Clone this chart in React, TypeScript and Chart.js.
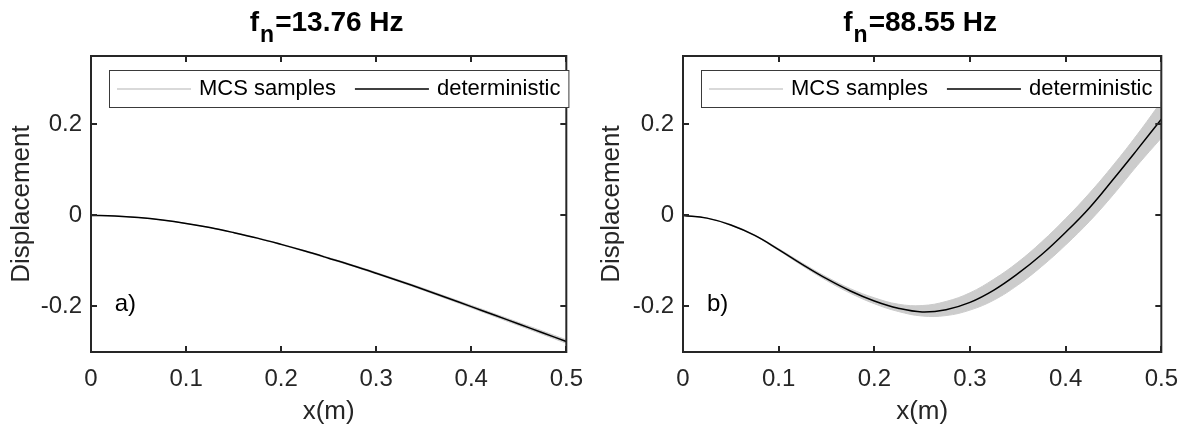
import React, { useEffect, useRef } from "react";
import { Chart, registerables } from "chart.js";

Chart.register(...registerables);

// ---------------- data ----------------
const xValues = [
  0, 0.025, 0.05, 0.075, 0.1, 0.125, 0.15, 0.175, 0.2, 0.225, 0.25,
  0.275, 0.3, 0.325, 0.35, 0.375, 0.4, 0.425, 0.45, 0.475, 0.5,
];

// panel a) f_n = 13.76 Hz
const detA = [
  0, -0.0012, -0.0047, -0.0103, -0.0177, -0.0268, -0.0378, -0.0499, -0.0637,
  -0.0784, -0.094, -0.11, -0.127, -0.1446, -0.1626, -0.1814, -0.2003, -0.2194,
  -0.2385, -0.2576, -0.277,
];
const mcsUpperA = [
  0, -0.0012, -0.0046, -0.0101, -0.0174, -0.0264, -0.0372, -0.0492, -0.0628,
  -0.0773, -0.0927, -0.1085, -0.1253, -0.1427, -0.1604, -0.179, -0.1976, -0.2164,
  -0.2352, -0.254, -0.2731,
];
const mcsLowerA = [
  0, -0.0012, -0.0048, -0.0105, -0.018, -0.0272, -0.0384, -0.0506, -0.0646,
  -0.0795, -0.0953, -0.1115, -0.1287, -0.1465, -0.1648, -0.1838, -0.203, -0.2224,
  -0.2418, -0.2612, -0.2809,
];

// panel b) f_n = 88.55 Hz
const detB = [
  0, -0.006, -0.021, -0.044, -0.075, -0.108, -0.139, -0.166, -0.188, -0.204,
  -0.212, -0.207, -0.191, -0.164, -0.128, -0.086, -0.037, 0.017, 0.08, 0.145,
  0.211,
];
const mcsUpperB = [
  0, -0.006, -0.02, -0.043, -0.073, -0.105, -0.135, -0.161, -0.181, -0.195,
  -0.198, -0.189, -0.17, -0.14, -0.103, -0.058, -0.007, 0.049, 0.111, 0.178,
  0.25,
];
const mcsLowerB = [
  0, -0.006, -0.022, -0.045, -0.077, -0.111, -0.143, -0.171, -0.194, -0.211,
  -0.221, -0.22, -0.208, -0.186, -0.153, -0.112, -0.065, -0.013, 0.046, 0.11,
  0.17,
];

const xTicks = [0, 0.1, 0.2, 0.3, 0.4, 0.5];
const yTicks = [-0.2, 0, 0.2];
const frequencies = ["13.76", "88.55"];
const panelLabels = ["a)", "b)"];
const legendLabels = ["MCS samples", "deterministic"];
const xAxisTitle = "x(m)";
const yAxisTitle = "Displacement";

// ---------------- style ----------------
const FAM = "'Liberation Sans', Arial, Helvetica, sans-serif";
const AXIS_COLOR = "#262626";
const BAND_COLOR = "#cccccc";
const H = 428;

type PanelLayout = {
  canvasLeft: number;
  canvasWidth: number;
  yWidth: number;
  rightPad: number;
  yTitlePad: number;
};

const layouts: PanelLayout[] = [
  { canvasLeft: 0, canvasWidth: 596, yWidth: 91, rightPad: 22, yTitlePad: 6 },
  { canvasLeft: 596, canvasWidth: 595, yWidth: 87, rightPad: 26, yTitlePad: 0 },
];

const series = [
  { det: detA, up: mcsUpperA, lo: mcsLowerA },
  { det: detB, up: mcsUpperB, lo: mcsLowerB },
];

function pts(ys: number[]) {
  return xValues.map((x, i) => ({ x, y: ys[i] }));
}

function makeFramePlugin(idx: number) {
  return {
    id: "matlabFrame" + idx,
    afterDatasetsDraw(chart: any) {
      const { ctx, chartArea } = chart;
      const { left, right, top, bottom } = chartArea;
      const xs = chart.scales.x;
      const ys = chart.scales.y;
      ctx.save();

      // panel label
      ctx.fillStyle = "#000";
      ctx.font = `24px ${FAM}`;
      ctx.textAlign = "left";
      ctx.textBaseline = "alphabetic";
      ctx.fillText(panelLabels[idx], xs.getPixelForValue(0.025), ys.getPixelForValue(-0.21));

      // box & inner ticks
      ctx.strokeStyle = AXIS_COLOR;
      ctx.lineWidth = 2;
      ctx.beginPath();
      const tl = 6;
      for (const v of xTicks) {
        const px = Math.round(xs.getPixelForValue(v));
        ctx.moveTo(px, bottom);
        ctx.lineTo(px, bottom - tl);
        ctx.moveTo(px, top);
        ctx.lineTo(px, top + tl);
      }
      for (const v of yTicks) {
        const py = Math.round(ys.getPixelForValue(v));
        ctx.moveTo(left, py);
        ctx.lineTo(left + tl, py);
        ctx.moveTo(right, py);
        ctx.lineTo(right - tl, py);
      }
      ctx.stroke();
      ctx.strokeRect(left, top, right - left, bottom - top);

      // legend
      const lf = 22;
      ctx.font = `${lf}px ${FAM}`;
      const w1 = ctx.measureText(legendLabels[0]).width;
      const w2 = ctx.measureText(legendLabels[1]).width;
      const lineLen = 74;
      const lx = left + 18;
      const ly = 70;
      const lh = 37;
      const lw = 8 + lineLen + 8 + w1 + 19 + lineLen + 8 + w2 + 8;
      ctx.fillStyle = "#fff";
      ctx.fillRect(lx, ly, lw, lh);
      ctx.strokeStyle = "#3a3a3a";
      ctx.lineWidth = 1;
      ctx.strokeRect(lx + 0.5, ly + 0.5, lw, lh);
      const cy = ly + lh / 2 + 0.5;
      let cx = lx + 8;
      ctx.strokeStyle = BAND_COLOR;
      ctx.lineWidth = 1.5;
      ctx.beginPath();
      ctx.moveTo(cx, cy);
      ctx.lineTo(cx + lineLen, cy);
      ctx.stroke();
      cx += lineLen + 8;
      ctx.fillStyle = "#000";
      ctx.textBaseline = "middle";
      ctx.fillText(legendLabels[0], cx, cy);
      cx += w1 + 19;
      ctx.strokeStyle = "#000";
      ctx.beginPath();
      ctx.moveTo(cx, cy);
      ctx.lineTo(cx + lineLen, cy);
      ctx.stroke();
      cx += lineLen + 8;
      ctx.fillText(legendLabels[1], cx, cy);

      // title f_n=... Hz
      const tf = 28;
      const mainFont = `bold ${tf}px ${FAM}`;
      const subFont = `bold ${Math.round(tf * 0.82)}px ${FAM}`;
      ctx.font = mainFont;
      const wf = ctx.measureText("f").width;
      const rest = "=" + frequencies[idx] + " Hz";
      const wr = ctx.measureText(rest).width;
      ctx.font = subFont;
      const wn = ctx.measureText("n").width;
      const total = wf + wn + wr;
      let tx = (left + right) / 2 - total / 2 - 3;
      const tb = 31;
      ctx.fillStyle = "#000";
      ctx.textAlign = "left";
      ctx.textBaseline = "alphabetic";
      ctx.font = mainFont;
      ctx.fillText("f", tx, tb);
      tx += wf + 1;
      ctx.font = subFont;
      ctx.fillText("n", tx, tb + 11);
      tx += wn + 1;
      ctx.font = mainFont;
      ctx.fillText(rest, tx, tb);

      ctx.restore();
    },
  };
}

function makeConfig(idx: number): any {
  const L = layouts[idx];
  const s = series[idx];
  return {
    type: "line",
    data: {
      datasets: [
        {
          label: legendLabels[0],
          data: pts(s.up),
          borderColor: BAND_COLOR,
          backgroundColor: BAND_COLOR,
          borderWidth: 1,
          pointRadius: 0,
          fill: "+1",
          order: 2,
          tension: 0.4,
        },
        {
          label: legendLabels[0] + " (min)",
          data: pts(s.lo),
          borderColor: BAND_COLOR,
          borderWidth: 1,
          pointRadius: 0,
          fill: false,
          order: 1,
          tension: 0.4,
        },
        {
          label: legendLabels[1],
          data: pts(s.det),
          borderColor: "#000",
          borderWidth: 1.5,
          pointRadius: 0,
          fill: false,
          order: -1,
          tension: 0.4,
        },
      ],
    },
    options: {
      animation: false,
      responsive: false,
      maintainAspectRatio: false,
      devicePixelRatio: 1,
      events: [],
      layout: { padding: { left: 0, right: L.rightPad, top: 56, bottom: 0 } },
      plugins: {
        legend: { display: false },
        title: { display: false },
        tooltip: { enabled: false },
      },
      scales: {
        x: {
          type: "linear",
          min: 0,
          max: 0.5,
          afterBuildTicks: (sc: any) => {
            sc.ticks = xTicks.map((v) => ({ value: v }));
          },
          afterFit: (sc: any) => {
            sc.height = H - 352;
          },
          grid: { display: false, drawTicks: false },
          border: { display: false },
          ticks: {
            autoSkip: false,
            maxRotation: 0,
            padding: 13,
            color: AXIS_COLOR,
            font: { family: FAM, size: 24 },
            callback: (v: number) => String(v),
          },
          title: {
            display: true,
            text: xAxisTitle,
            color: AXIS_COLOR,
            font: { family: FAM, size: 26 },
            padding: { top: 0, bottom: 1 },
          },
        },
        y: {
          type: "linear",
          min: -0.3,
          max: 0.35,
          afterBuildTicks: (sc: any) => {
            sc.ticks = yTicks.map((v) => ({ value: v }));
          },
          afterFit: (sc: any) => {
            sc.width = L.yWidth;
          },
          grid: { display: false, drawTicks: false },
          border: { display: false },
          ticks: {
            padding: 9,
            color: AXIS_COLOR,
            font: { family: FAM, size: 24 },
            callback: (v: number) => String(v),
          },
          title: {
            display: true,
            text: yAxisTitle,
            color: AXIS_COLOR,
            font: { family: FAM, size: 26 },
            padding: { top: L.yTitlePad, bottom: 0 },
          },
        },
      },
    },
    plugins: [makeFramePlugin(idx)],
  };
}

function Panel({ idx }: { idx: number }) {
  const ref = useRef<HTMLCanvasElement>(null);
  const L = layouts[idx];
  useEffect(() => {
    if (!ref.current) return;
    const chart = new Chart(ref.current, makeConfig(idx));
    return () => chart.destroy();
  }, [idx]);
  return (
    <div
      style={{
        position: "absolute",
        left: L.canvasLeft,
        top: 0,
        width: L.canvasWidth,
        height: H,
      }}
    >
      <canvas ref={ref} width={L.canvasWidth} height={H} />
    </div>
  );
}

export default function App() {
  return (
    <div
      style={{
        position: "absolute",
        left: 0,
        top: 0,
        width: 1191,
        height: H,
        background: "#fff",
        overflow: "hidden",
      }}
    >
      <Panel idx={0} />
      <Panel idx={1} />
    </div>
  );
}
